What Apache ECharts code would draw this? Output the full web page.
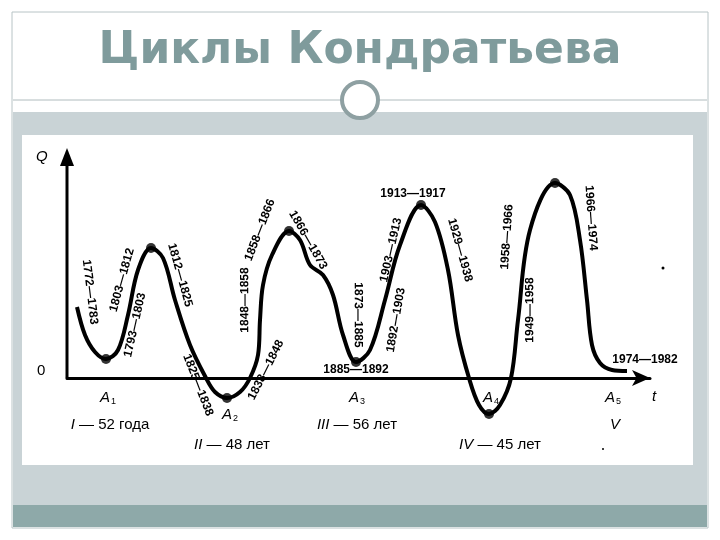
<!DOCTYPE html>
<html>
<head>
<meta charset="utf-8">
<script src="https://cdn.jsdelivr.net/npm/echarts@6/dist/echarts.min.js"></script>
<style>html,body{margin:0;padding:0;background:#fff}#c{width:720px;height:540px}</style>
</head>
<body>
<div id="c"></div>
<script>
// curve: [t, Q] in diagram units
var curve = [[10,71],[18,43],[28,26],[39,19],[51,28],[61,63],[71,108],[84,130],[96,120],[108,78],[123,33],[139,0],
  [148,-14],[160,-20],[173,-14],[183,0],[191,23],[193,58],[196,93],[205,123],[222,147],[233,138],[243,113],[256,103],
  [266,83],[276,43],[289,16],[303,28],[318,78],[333,133],[354,173],[368,156],[381,108],[391,43],[402,0],[412,-27],
  [422,-36],[433,-27],[444,0],[451,58],[463,148],[488,195],[503,183],[513,138],[520,78],[525,33],[533,15],[545,8],[560,7]];
var peaks = [[39,19],[84,130],[160,-20],[222,147],[289,16],[354,173],[422,-36],[488,195]];
var periodNum = ['I','II','III','IV','V'];
var periodText = [' — 52 года',' — 48 лет',' — 56 лет',' — 45 лет',''];
var spans = [
  ['1772—1783',90,292,-1.45],['1803—1812',122,280,1.3],['1793—1803',135,325,1.35],['1812—1825',180,275,-1.3],
  ['1825—1838',198,385,-1.2],['1848—1858',245,300,1.57],['1858—1866',260,230,1.2],['1838—1848',266,370,1.1],
  ['1866—1873',308,240,-1.05],['1873—1885',358,315,-1.57],['1885—1892',356,370,0],['1903—1913',391,250,1.35],
  ['1892—1903',396,320,1.4],['1913—1917',413,194,0],['1929—1938',460,250,-1.3],['1958—1966',507,237,1.5],
  ['1949—1958',530,310,1.57],['1966—1974',591,218,-1.5],['1974—1982',645,360,0]
];

var g = [
  {type:'rect',shape:{x:12,y:12,width:696,height:516},style:{fill:'#fff',stroke:'#b8c4c6',lineWidth:1},z:-10},
  {type:'rect',shape:{x:13,y:112,width:694,height:393},style:{fill:'#c9d3d6'},z:-9},
  {type:'rect',shape:{x:22,y:135,width:671,height:330},style:{fill:'#fff'},z:-8},
  {type:'rect',shape:{x:13,y:505,width:694,height:22},style:{fill:'#8ea9a9'},z:-9},
  {type:'line',shape:{x1:13,y1:100,x2:707,y2:100},style:{stroke:'#b0bcbe',lineWidth:1}},
  {type:'circle',shape:{cx:360,cy:100,r:18},style:{fill:'#fff',stroke:'#8ea0a2',lineWidth:4}},
  {type:'text',x:360,y:52,style:{text:'Циклы Кондратьева',font:'bold 44px "DejaVu Sans"',fill:'#7f9b9c',textAlign:'center',textVerticalAlign:'middle'}},
  {type:'line',shape:{x1:67,y1:378,x2:67,y2:160},style:{stroke:'#000',lineWidth:3},z:5},
  {type:'polygon',shape:{points:[[60,166],[74,166],[67,148]]},style:{fill:'#000'},z:5},
  {type:'text',x:36,y:157,style:{text:'Q',font:'italic 15px "Liberation Sans"',fill:'#000',textVerticalAlign:'middle'}},
  {type:'text',x:37,y:371,style:{text:'0',font:'15px "Liberation Sans"',fill:'#000',textVerticalAlign:'middle'}},
  {type:'text',x:652,y:397,style:{text:'t',font:'italic 15px "Liberation Sans"',fill:'#000',textVerticalAlign:'middle'}},
  {type:'circle',shape:{cx:663,cy:268,r:1.5},style:{fill:'#000'}},
  {type:'circle',shape:{cx:603,cy:449,r:1},style:{fill:'#000'}}
];
spans.forEach(function(s){
  g.push({type:'text',x:s[1],y:s[2],rotation:s[3],z:6,
    style:{text:s[0],font:'bold 12px "Liberation Sans Narrow","Liberation Sans"',fill:'#000',textAlign:'center',textVerticalAlign:'middle'}});
});
var aPos = [[100,398],[222,415],[349,398],[483,398],[605,398]];
aPos.forEach(function(p,i){
  g.push({type:'text',x:p[0],y:p[1],z:6,style:{rich:{a:{font:'italic 15px "Liberation Sans"'},s:{font:'9px "Liberation Sans"',padding:[8,0,0,1]}},
    text:'{a|A}{s|'+(i+1)+'}',fill:'#000',textVerticalAlign:'middle'}});
});
var pPos = [[110,425],[232,445],[357,425],[500,445],[615,425]];
periodNum.forEach(function(n,i){
  g.push({type:'text',x:pPos[i][0],y:pPos[i][1],z:6,style:{rich:{r:{font:'italic 15px "Liberation Sans"'},t:{font:'15px "Liberation Sans"'}},
    text:'{r|'+n+'}{t|'+periodText[i]+'}',fill:'#000',textAlign:'center',textVerticalAlign:'middle'}});
});

var chart = echarts.init(document.getElementById('c'));
chart.setOption({
  animation:false,
  grid:{left:67,right:70,top:152,bottom:122},
  xAxis:{type:'value',min:0,max:583,axisLine:{onZero:true,lineStyle:{color:'#000',width:3},symbol:['none','arrow'],symbolSize:[12,18]},
    splitLine:{show:false},axisTick:{show:false},axisLabel:{show:false}},
  yAxis:{type:'value',min:-40,max:226,show:false},
  graphic:g,
  series:[
    {type:'line',data:curve,smooth:0.35,showSymbol:false,lineStyle:{color:'#000',width:4},clip:false,z:3},
    {type:'scatter',data:peaks,symbolSize:10,itemStyle:{color:'#000'},z:4}
  ]
});
</script>
</body>
</html>
